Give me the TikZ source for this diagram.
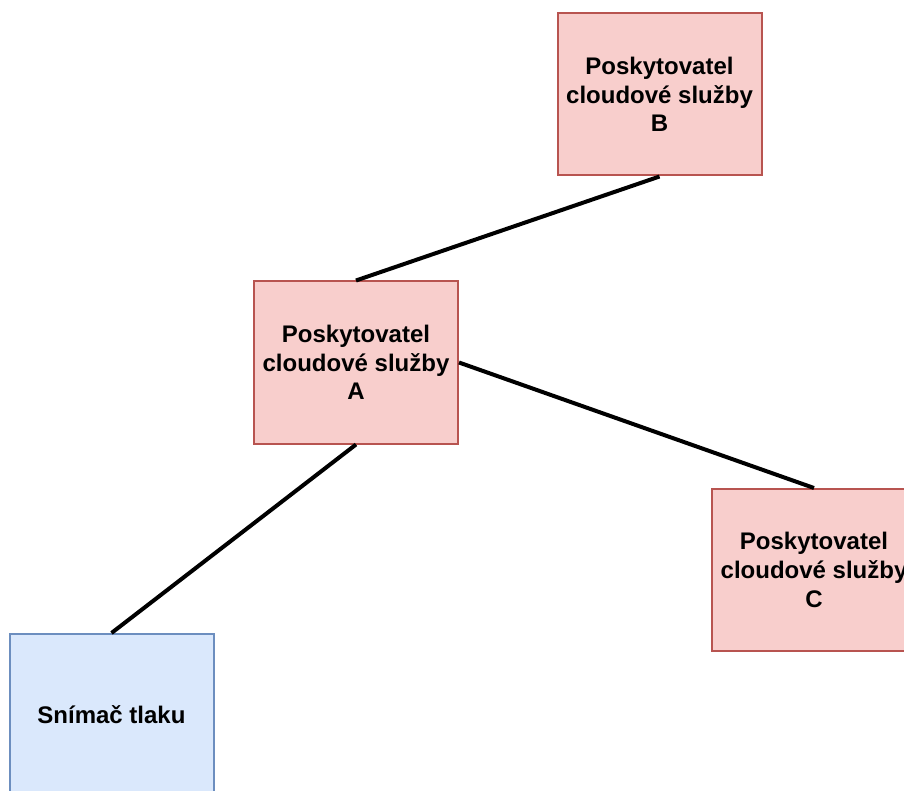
\documentclass[tikz,border=0pt]{standalone}
\usepackage{fontspec}
\setmainfont{Liberation Sans}
\definecolor{provfill}{HTML}{F8CECC}
\definecolor{provdraw}{HTML}{B85450}
\definecolor{sensfill}{HTML}{DAE8FC}
\definecolor{sensdraw}{HTML}{6C8EBF}
\begin{document}
\begin{tikzpicture}[x=1pt,y=-1pt,
  box/.style={rectangle, minimum width=204pt, minimum height=162pt, line width=2pt,
    align=center, inner sep=0pt,
    font=\fontsize{24}{28.8}\selectfont\bfseries},
  provider/.style={box, fill=provfill, draw=provdraw},
  sensor/.style={box, fill=sensfill, draw=sensdraw},
  link/.style={line width=4pt, black}]
  \useasboundingbox (0,0) rectangle (904,791);
  \node[provider] (B) at (659.5,94.5) {Poskytovatel\\cloudové služby\\B};
  \node[provider] (A) at (356,362.5) {Poskytovatel\\cloudové služby\\A};
  \node[provider] (C) at (814,570) {Poskytovatel\\cloudové služby\\C};
  \node[sensor] (S) at (111.5,715) {Snímač tlaku};
  \draw[link] (B.south) -- (A.north);
  \draw[link] (A.east) -- (C.north);
  \draw[link] (A.south) -- (S.north);
\end{tikzpicture}
\end{document}
